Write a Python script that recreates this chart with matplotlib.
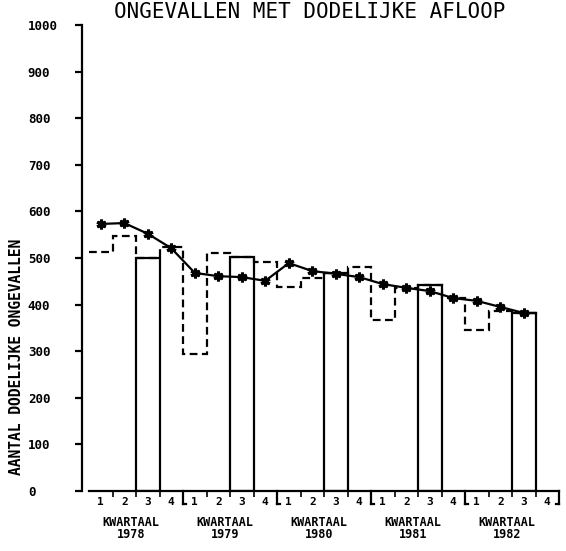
import numpy as np
import matplotlib
matplotlib.use("Agg")
import matplotlib.pyplot as plt

# quarterly counts (Q1..Q4 per year, 1982 only up to Q3)
years = ["1978", "1979", "1980", "1981", "1982"]
quarter_labels = ["1", "2", "3", "4"]
quarterly = [513, 547, 500, 524,
             294, 511, 502, 491,
             438, 457, 468, 481,
             367, 436, 442, 414,
             345, 386, 382]
# moving average (line with star markers)
moving_avg = [573, 575, 552, 521,
              468, 461, 459, 451,
              489, 472, 466, 459,
              444, 436, 429, 414,
              408, 395, 382]
y_ticks = [0, 100, 200, 300, 400, 500, 600, 700, 800, 900, 1000]

title = "ONGEVALLEN MET DODELIJKE AFLOOP"
ylabel = "AANTAL DODELIJKE ONGEVALLEN"
year_word = "KWARTAAL"

MONO = "DejaVu Sans Mono"
W, H = 566, 551


def main() -> None:
    fig = plt.figure(figsize=(W / 100, H / 100), dpi=100)
    ax = fig.add_axes([82 / W, 60 / H, (559 - 82) / W, (491 - 25) / H])

    n_q = len(years) * 4
    ax.set_xlim(-0.3, n_q)
    ax.set_ylim(0, 1000)

    lw = 1.6
    edges = np.arange(len(quarterly) + 1)
    ax.stairs(quarterly, edges, baseline=None, color="black", lw=lw,
              linestyle=(0, (3.5, 2)))

    # third quarters as solid open bars
    q3 = [i for i in range(len(quarterly)) if i % 4 == 2]
    ax.bar([i + 0.5 for i in q3], [quarterly[i] for i in q3], width=1.0,
           fill=False, edgecolor="black", linewidth=lw)

    x_ma = np.arange(len(moving_avg)) + 0.5
    ax.plot(x_ma, moving_avg, color="black", lw=lw, marker=(6, 2, 0),
            markersize=7, markeredgewidth=2.2, zorder=5)
    ax.plot([x_ma[-1], len(quarterly)], [moving_avg[-1], quarterly[-1]],
            color="black", lw=lw)

    # axes styling
    for side in ("top", "right", "bottom"):
        ax.spines[side].set_visible(False)
    ax.spines["left"].set_linewidth(lw)
    ax.plot([0, n_q], [0, 0], color="black", lw=lw, clip_on=False)

    ax.set_yticks(y_ticks)
    ax.set_yticklabels([str(v) for v in y_ticks], fontfamily=MONO,
                       fontweight="bold", fontsize=9)
    ax.tick_params(axis="y", direction="out", length=5, width=lw, pad=34)
    for lbl in ax.get_yticklabels():
        lbl.set_horizontalalignment("left")

    # quarter labels at centres, minor ticks at quarter boundaries
    ax.set_xticks(np.arange(n_q) + 0.5)
    ax.set_xticklabels(quarter_labels * len(years), fontfamily=MONO,
                       fontweight="bold", fontsize=8)
    ax.tick_params(axis="x", length=0, pad=4)
    ax.set_xticks([i for i in range(1, n_q) if i % 4 != 0], minor=True)
    ax.tick_params(axis="x", which="minor", direction="out", length=4,
                   width=1.2)

    # year brackets
    dy = 28
    for b in range(4, n_q + 1, 4):
        ax.plot([b, b], [0, -dy], color="black", lw=lw, clip_on=False)
        sx = -0.12 if b == n_q else 0.12
        ax.plot([b, b + sx], [-dy, -dy], color="black", lw=lw, clip_on=False)

    trans = ax.get_xaxis_transform()
    for k, yr in enumerate(years):
        xc = 4 * k + 2 - 0.2
        ax.text(xc, -31 / 466, year_word, transform=trans, ha="center",
                va="center", fontfamily=MONO, fontweight="bold", fontsize=8.5)
        ax.text(xc, -44 / 466, yr, transform=trans, ha="center",
                va="center", fontfamily=MONO, fontweight="bold", fontsize=8.5)

    fig.text(17 / W, 1 - 357 / H, ylabel, rotation=90, ha="center",
             va="center", fontfamily=MONO, fontweight="bold", fontsize=10.5)
    fig.text(310 / W, 1 - 2 / H, title, ha="center", va="top",
             fontfamily=MONO, fontsize=15)

    fig.savefig("out.png", dpi=100)
    plt.close(fig)


if __name__ == "__main__":
    main()
